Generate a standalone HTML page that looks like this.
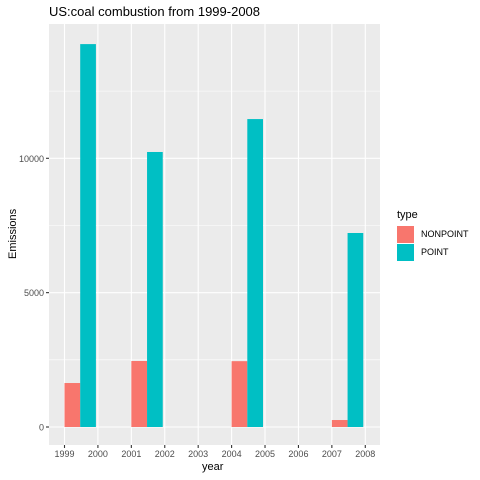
<!DOCTYPE html>
<html><head><meta charset="utf-8"><style>body{margin:0;background:#fff}svg{display:block;font-family:"Liberation Sans",sans-serif}</style></head>
<body>
<svg id="c" width="480" height="480"></svg>
<script>
const groupYears=[1999,2001,2004,2007];
const nonpoint=[1637,2456,2450,260];
const point=[14250,10235,11460,7220];
const xTicks=[1999,2000,2001,2002,2003,2004,2005,2006,2007,2008];
const yTicks=[0,5000,10000];
const yMinor=[2500,7500,12500];
const NS="http://www.w3.org/2000/svg";
const svg=document.getElementById('c');
const L=49,R=380,T=24,B=445;
const x=v=>64.5+(v-1999)*33.42;
const y=v=>427-v*0.02687;
function el(t,a,p){const e=document.createElementNS(NS,t);for(const k in a)e.setAttribute(k,a[k]);(p||svg).appendChild(e);return e;}
const bg=el('rect',{x:L,y:T,width:R-L,height:B-T,fill:'#ebebeb'});


yMinor.forEach(v=>{const l=el('line',{x1:L,x2:R,y1:y(v),y2:y(v),stroke:'#fff','stroke-width':0.55});

});
yTicks.forEach(v=>{const l=el('line',{x1:L,x2:R,y1:y(v),y2:y(v),stroke:'#fff','stroke-width':1.1});


const tk=el('line',{x1:L-3,x2:L,y1:y(v),y2:y(v),stroke:'#333','stroke-width':1.1});


const t=el('text',{x:L-5,y:y(v)+3.5,'text-anchor':'end','font-size':9,fill:'#4d4d4d'});t.textContent=v;

});
xTicks.forEach(v=>{const l=el('line',{x1:x(v),x2:x(v),y1:T,y2:B,stroke:'#fff','stroke-width':1.1});


const tk=el('line',{x1:x(v),x2:x(v),y1:B,y2:B+3,stroke:'#333','stroke-width':1.1});


const t=el('text',{x:x(v),y:B+12,'text-anchor':'middle','font-size':9,fill:'#4d4d4d'});t.textContent=v;

});
const bw=0.47*33.42;
groupYears.forEach((g,i)=>{
const a=el('rect',{x:x(g),y:y(nonpoint[i]),width:bw,height:y(0)-y(nonpoint[i]),fill:'#f8766d'});


const b=el('rect',{x:x(g)+bw,y:y(point[i]),width:bw,height:y(0)-y(point[i]),fill:'#00bfc4'});

});
</script>
<div style="position:absolute;left:0;top:0;width:480px;height:480px;font-family:'Liberation Sans',sans-serif;pointer-events:none">
<div style="position:absolute;left:49px;top:4px;font-size:13px;color:#000">US:coal combustion from 1999-2008</div>
<div style="position:absolute;left:202px;top:461px;font-size:11px">year</div>
<div style="position:absolute;left:-12px;top:228px;font-size:11px;transform:rotate(-90deg);width:50px;text-align:center">Emissions</div>
<div style="position:absolute;left:397px;top:209px;font-size:11px">
<div>type</div>
<div style="position:absolute;top:17px;left:0;white-space:nowrap"><span style="display:inline-block;width:17px;height:17px;background:#f8766d"></span><span style="position:absolute;left:24px;top:3px;font-size:9px">NONPOINT</span></div>
<div style="position:absolute;top:35px;left:0;white-space:nowrap"><span style="display:inline-block;width:17px;height:17px;background:#00bfc4"></span><span style="position:absolute;left:24px;top:3px;font-size:9px">POINT</span></div>
</div></div>
</body></html>
